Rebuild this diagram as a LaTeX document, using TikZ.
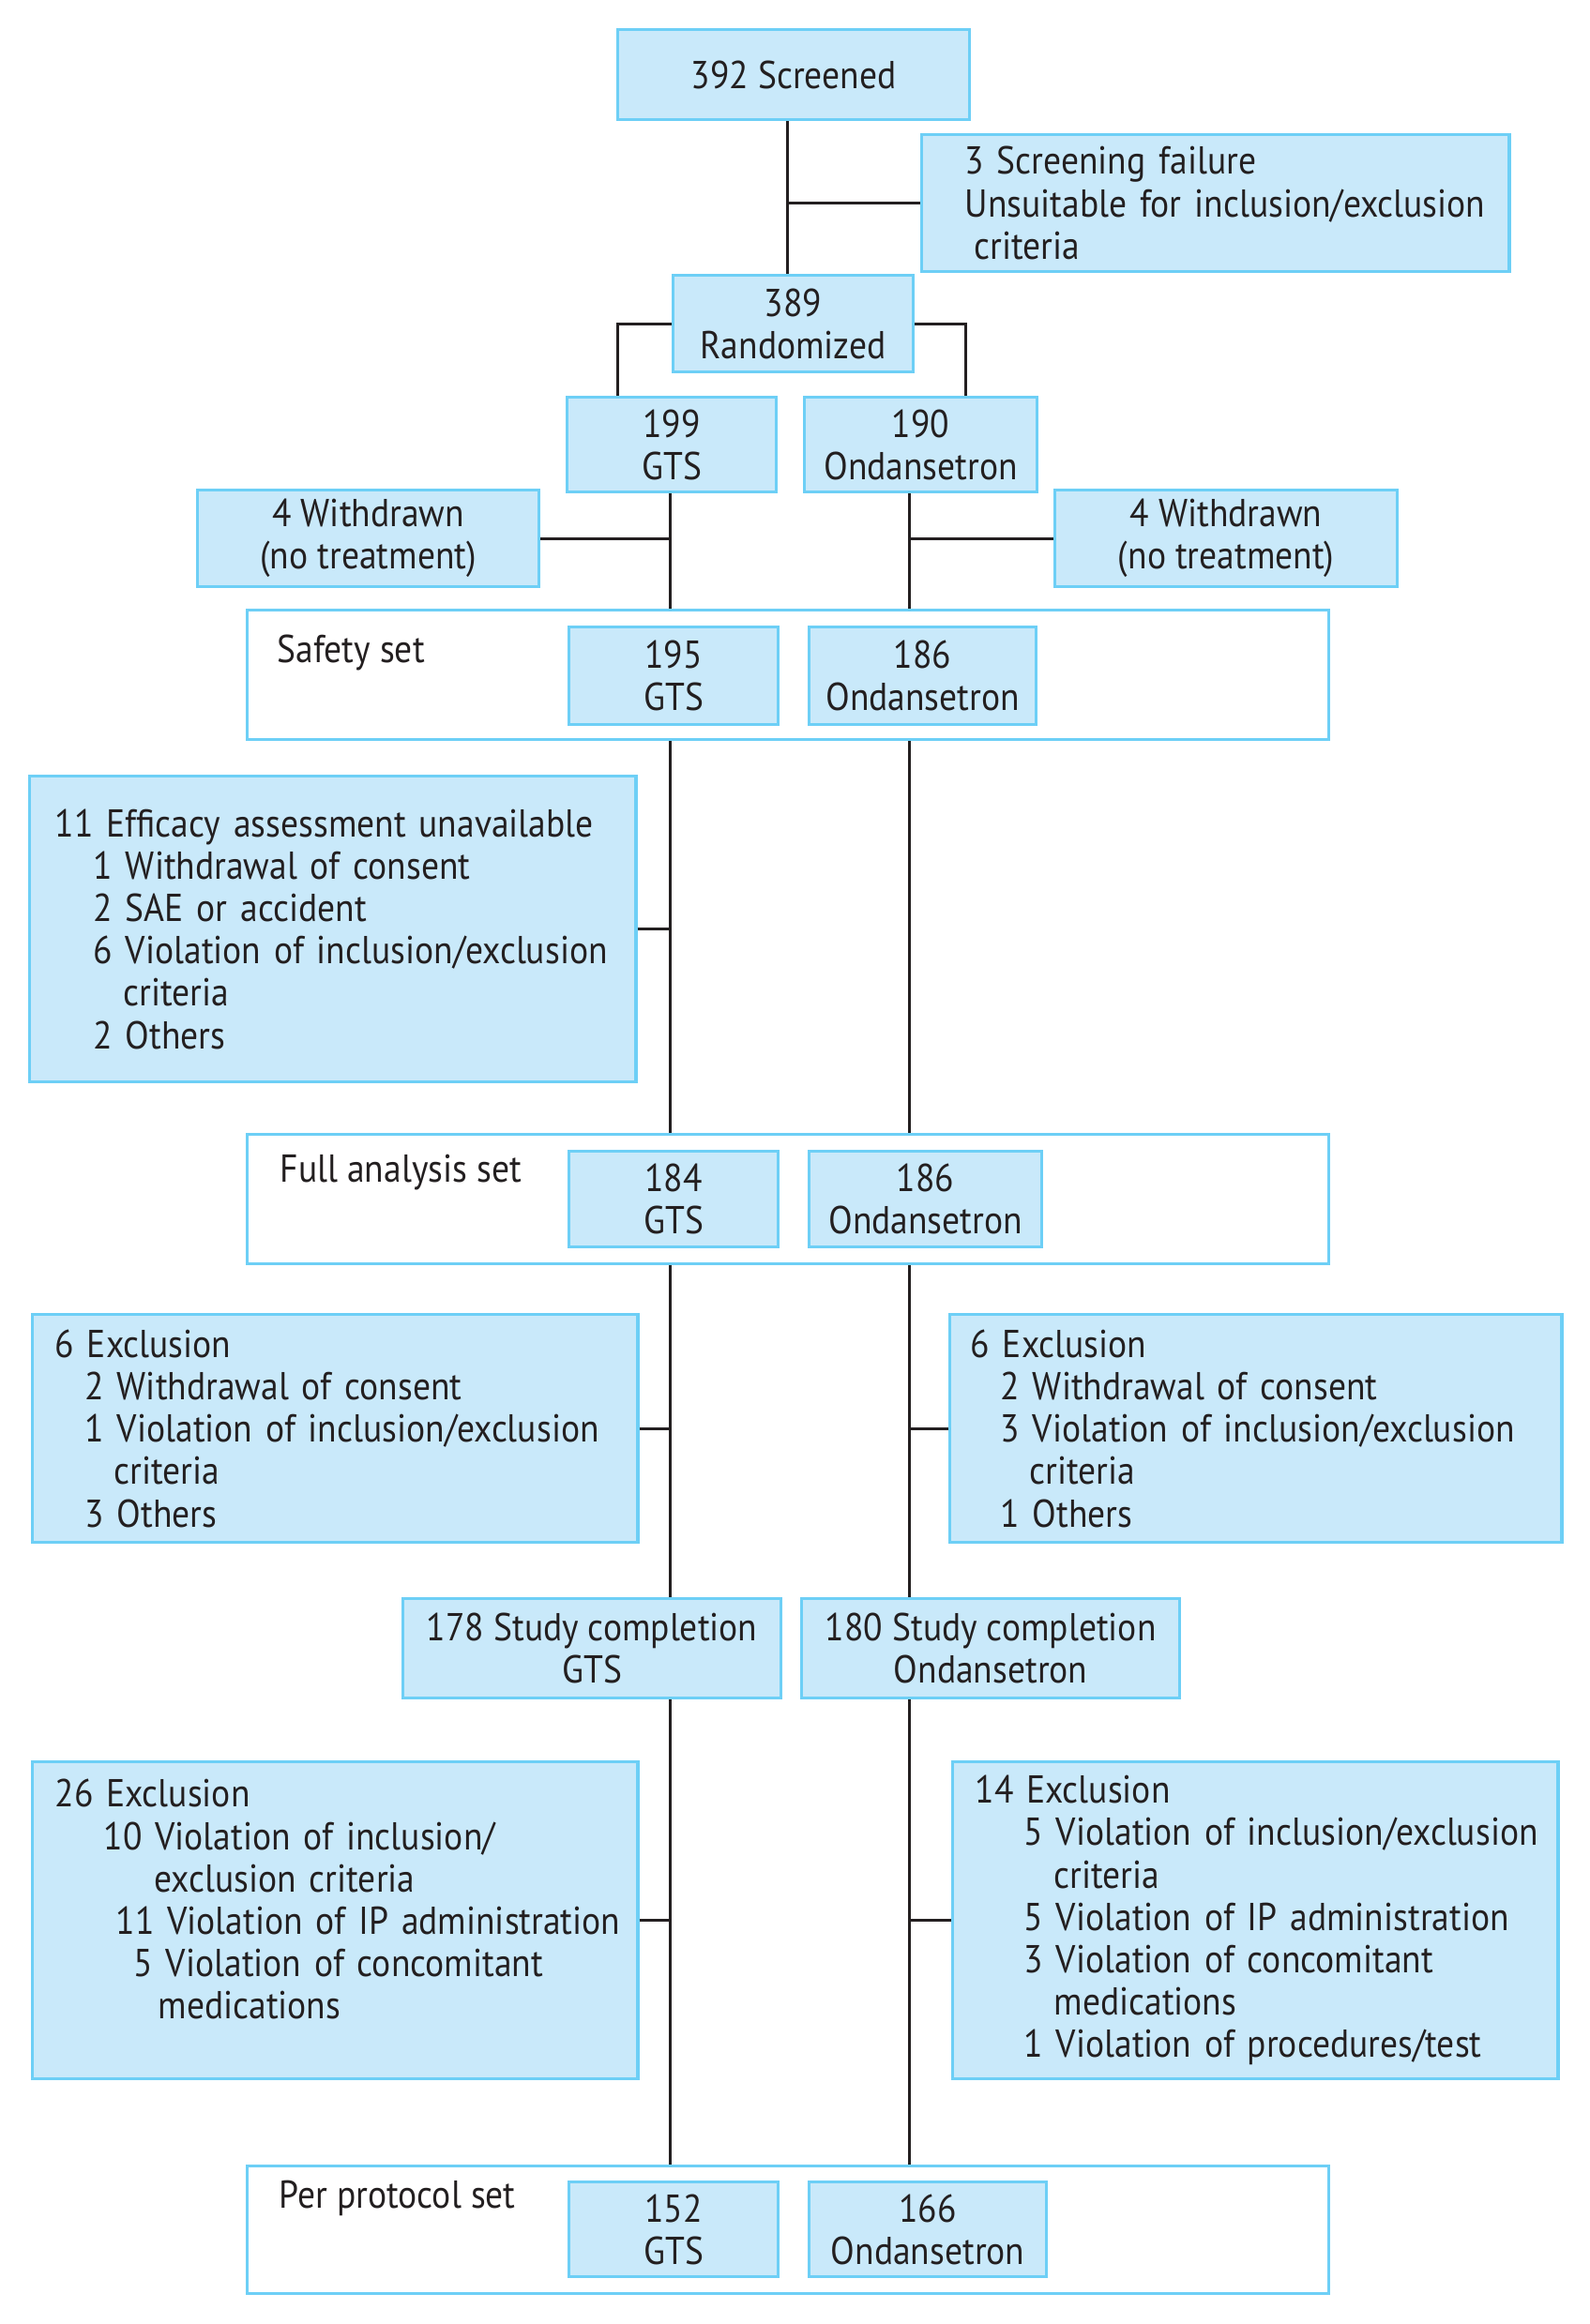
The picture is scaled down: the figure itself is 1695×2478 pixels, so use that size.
\documentclass[tikz,border=0pt]{standalone}
\usepackage{fontspec}
\setmainfont[FakeStretch=0.905]{PT Sans}
\definecolor{boxfill}{HTML}{C9E9FA}
\definecolor{boxline}{HTML}{6DCFF6}
\definecolor{ink}{HTML}{231F20}
\tikzset{
  tally/.style={draw=boxline, fill=boxfill, line width=0.9pt, anchor=north west, align=center, inner sep=0pt},
  listbox/.style={draw=boxline, fill=boxfill, line width=0.9pt, anchor=north west, align=left, inner sep=0pt},
  setbox/.style={draw=boxline, fill=white, line width=0.9pt, anchor=north west, inner sep=0pt},
  setlabel/.style={anchor=base west, inner sep=0pt},
  link/.style={draw=ink, line width=0.85pt}
}
\begin{document}
\begin{tikzpicture}[x=0.01cm, y=-0.01cm, font=\fontsize{11.8}{12.85}\selectfont, text=ink]
    \useasboundingbox (0,0) rectangle (1695,2478);
    \coordinate (colS) at (839,0);
    \coordinate (colG) at (714,0);
    \coordinate (colO) at (969,0);

    % screening
    \node[tally, minimum width=3.75cm, minimum height=0.96cm] (scr) at (657,30) {392 Screened};
    \node[listbox, text width=6.26cm, minimum height=1.46cm] (fail) at (981,142) {\leftskip=0.46cm\relax 3 Screening failure\\
        Unsuitable for inclusion/exclusion\\
        \hspace*{0.1cm}criteria\par};
    \node[tally, minimum width=2.56cm, minimum height=1.03cm] (rand) at (716,292) {389\\Randomized};

    % arms
    \node[tally, minimum width=2.23cm, minimum height=1.01cm] (gts) at (603,422) {199\\GTS};
    \node[tally, minimum width=2.48cm, minimum height=1.01cm] (ond) at (856,422) {190\\Ondansetron};
    \node[tally, minimum width=3.64cm, minimum height=1.03cm] (wdl) at (209,521) {4 Withdrawn\\(no treatment)};
    \node[tally, minimum width=3.65cm, minimum height=1.03cm] (wdr) at (1123,521) {4 Withdrawn\\(no treatment)};

    % safety set
    \node[setbox, minimum width=11.52cm, minimum height=1.38cm] (safe) at (262,649) {};
    \node[setlabel] (safeLbl) at (295,706) {Safety set};
    \node[tally, minimum width=2.23cm, minimum height=1.04cm] (safeG) at (605,667) {195\\GTS};
    \node[tally, minimum width=2.42cm, minimum height=1.04cm] (safeO) at (861,667) {186\\Ondansetron};

    \node[listbox, text width=6.46cm, minimum height=3.26cm] (eff) at (30,826) {\leftskip=0.27cm\relax 11 Efficacy assessment unavailable\\
        \hspace*{0.41cm}1 Withdrawal of consent\\
        \hspace*{0.41cm}2 SAE or accident\\
        \hspace*{0.41cm}6 Violation of inclusion/exclusion\\
        \hspace*{0.73cm}criteria\\
        \hspace*{0.41cm}2 Others\par};

    % full analysis set
    \node[setbox, minimum width=11.52cm, minimum height=1.38cm] (fas) at (262,1208) {};
    \node[setlabel] (fasLbl) at (298,1260) {Full analysis set};
    \node[tally, minimum width=2.23cm, minimum height=1.02cm] (fasG) at (605,1226) {184\\GTS};
    \node[tally, minimum width=2.48cm, minimum height=1.02cm] (fasO) at (861,1226) {186\\Ondansetron};

    \node[listbox, text width=6.45cm, minimum height=2.43cm] (exL) at (33,1400) {\leftskip=0.24cm\relax 6 Exclusion\\
        \hspace*{0.32cm}2 Withdrawal of consent\\
        \hspace*{0.32cm}1 Violation of inclusion/exclusion\\
        \hspace*{0.63cm}criteria\\
        \hspace*{0.32cm}3 Others\par};
    \node[listbox, text width=6.52cm, minimum height=2.43cm] (exR) at (1011,1400) {\leftskip=0.22cm\relax 6 Exclusion\\
        \hspace*{0.32cm}2 Withdrawal of consent\\
        \hspace*{0.32cm}3 Violation of inclusion/exclusion\\
        \hspace*{0.63cm}criteria\\
        \hspace*{0.32cm}1 Others\par};

    % completion
    \node[tally, minimum width=4.03cm, minimum height=1.06cm] (doneG) at (428,1703) {178 Study completion\\GTS};
    \node[tally, minimum width=4.03cm, minimum height=1.06cm] (doneO) at (853,1703) {180 Study completion\\Ondansetron};

    \node[listbox, text width=6.45cm, minimum height=3.38cm] (ppL) at (33,1877) {\leftskip=0.24cm\relax 26 Exclusion\\
        \hspace*{0.52cm}10 Violation of inclusion/\\
        \hspace*{1.06cm}exclusion criteria\\
        \hspace*{0.65cm}11 Violation of IP administration\\
        \hspace*{0.84cm}5 Violation of concomitant\\
        \hspace*{1.1cm}medications\\
        \mbox{}\par};
    \node[listbox, text width=6.45cm, minimum height=3.38cm] (ppR) at (1014,1877) {\leftskip=0.24cm\relax 14 Exclusion\\
        \hspace*{0.52cm}5 Violation of inclusion/exclusion\\
        \hspace*{0.84cm}criteria\\
        \hspace*{0.52cm}5 Violation of IP administration\\
        \hspace*{0.52cm}3 Violation of concomitant\\
        \hspace*{0.84cm}medications\\
        \hspace*{0.52cm}1 Violation of procedures/test\par};

    % per protocol set
    \node[setbox, minimum width=11.52cm, minimum height=1.36cm] (pps) at (262,2308) {};
    \node[setlabel] (ppsLbl) at (297,2354) {Per protocol set};
    \node[tally, minimum width=2.23cm, minimum height=1.01cm] (ppsG) at (605,2325) {152\\GTS};
    \node[tally, minimum width=2.53cm, minimum height=1.01cm] (ppsO) at (861,2325) {166\\Ondansetron};

    % connectors
    \draw[link] (scr.south -| colS) -- (rand.north -| colS);
    \draw[link] (colS |- fail.west) -- (fail.west);
    \draw[link] (rand.west) -| ([xshift=-0.575cm]gts.north);
    \draw[link] (rand.east) -| ([xshift=0.48cm]ond.north);
    \draw[link] (gts.south -| colG) -- (safe.north -| colG);
    \draw[link] (ond.south -| colO) -- (safe.north -| colO);
    \draw[link] (wdl.east) -- (wdl.east -| colG);
    \draw[link] (wdr.west) -- (wdr.west -| colO);
    \draw[link] (safe.south -| colG) -- (fas.north -| colG);
    \draw[link] (safe.south -| colO) -- (fas.north -| colO);
    \draw[link] (eff.east) -- (eff.east -| colG);
    \draw[link] (fas.south -| colG) -- (doneG.north -| colG);
    \draw[link] (fas.south -| colO) -- (doneO.north -| colO);
    \draw[link] (exL.east) -- (exL.east -| colG);
    \draw[link] (exR.west) -- (exR.west -| colO);
    \draw[link] (doneG.south -| colG) -- (pps.north -| colG);
    \draw[link] (doneO.south -| colO) -- (pps.north -| colO);
    \draw[link] (ppL.east) -- (ppL.east -| colG);
    \draw[link] (ppR.west) -- (ppR.west -| colO);
\end{tikzpicture}
\end{document}
